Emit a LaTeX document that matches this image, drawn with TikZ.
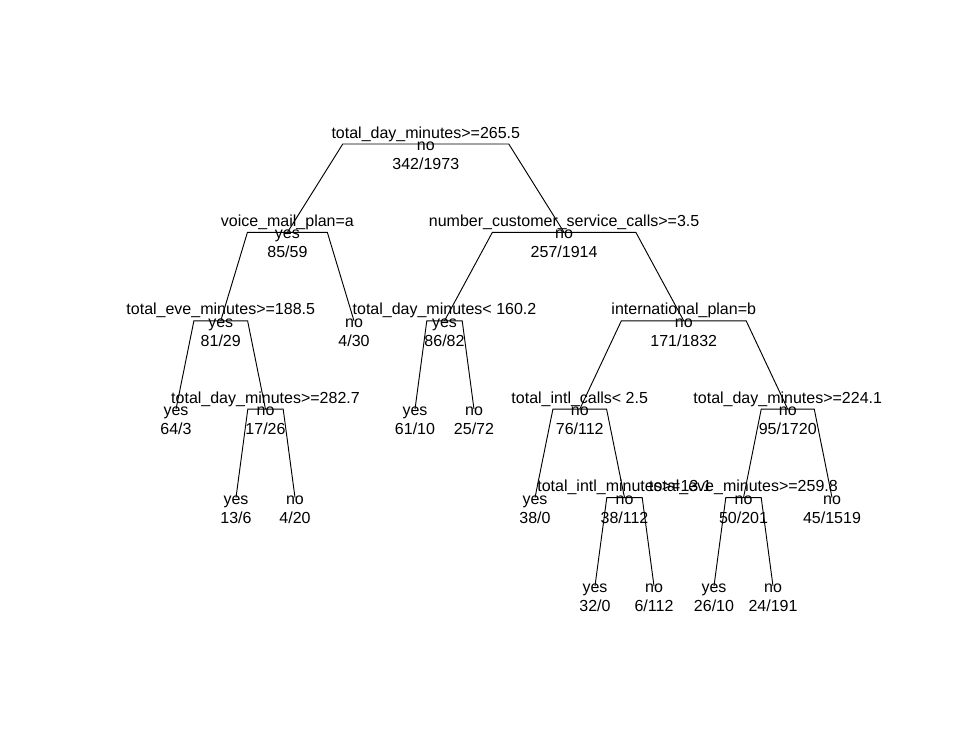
\documentclass[tikz,border=0pt]{standalone}
\usepackage{fontspec}
\setmainfont{Liberation Sans}
\usetikzlibrary{calc}
\tikzset{
  lbl/.style={anchor=base, inner sep=0pt, font=\fontsize{12}{14}\selectfont},
  edge/.style={draw=black, line width=0.7pt}
}
% internal node: name, x, y, split label, class, counts
\newcommand\inode[6]{%
  \coordinate (#1) at (#2,#3);
  \node[lbl] (#1-s) at (#2,{#3-6}) {#4};
  \node[lbl] (#1-c) at (#2,{#3+6.5}) {#5};
  \node[lbl] (#1-n) at (#2,{#3+25.5}) {#6};
}
% leaf: name, x, y, class, counts
\newcommand\lnode[5]{%
  \coordinate (#1) at (#2,#3);
  \node[lbl] (#1-c) at (#2,{#3+6.5}) {#4};
  \node[lbl] (#1-n) at (#2,{#3+25.5}) {#5};
}
% branches: parent, left child, right child
\newcommand\tbranch[3]{%
  \draw[edge] let \p1=(#1), \p2=(#2), \p3=(#3) in
    (#2) -- ({\x1+0.6*(\x2-\x1)},\y1) -- ({\x1+0.6*(\x3-\x1)},\y1) -- (#3);
}
\begin{document}
\begin{tikzpicture}[x=0.75pt,y=-0.75pt]
\fill[white] (0,0) rectangle (972,749);
\useasboundingbox (0,0) rectangle (972,749);

% levels
\def\Lz{144}\def\La{232.4}\def\Lb{320.8}\def\Lc{409.2}\def\Ld{497.6}\def\Le{586}

\inode{n1}{425.8}{\Lz}{total\_day\_minutes>=265.5}{no}{342/1973}
\inode{n2}{287.4}{\La}{voice\_mail\_plan=a}{yes}{85/59}
\inode{n3}{564.1}{\La}{number\_customer\_service\_calls>=3.5}{no}{257/1914}
\inode{n4}{220.75}{\Lb}{total\_eve\_minutes>=188.5}{yes}{81/29}
\lnode{n5}{354}{\Lb}{no}{4/30}
\inode{n6}{444.5}{\Lb}{total\_day\_minutes< 160.2}{yes}{86/82}
\inode{n7}{683.75}{\Lb}{international\_plan=b}{no}{171/1832}
\lnode{n8}{176}{\Lc}{yes}{64/3}
\inode{n9}{265.5}{\Lc}{total\_day\_minutes>=282.7}{no}{17/26}
\lnode{n10}{415}{\Lc}{yes}{61/10}
\lnode{n11}{474}{\Lc}{no}{25/72}
\inode{n12}{579.75}{\Lc}{total\_intl\_calls< 2.5}{no}{76/112}
\inode{n13}{787.75}{\Lc}{total\_day\_minutes>=224.1}{no}{95/1720}
\lnode{n14}{236}{\Ld}{yes}{13/6}
\lnode{n15}{295}{\Ld}{no}{4/20}
\lnode{n16}{535}{\Ld}{yes}{38/0}
\inode{n17}{624.5}{\Ld}{total\_intl\_minutes>=13.1}{no}{38/112}
\inode{n18}{743.5}{\Ld}{total\_eve\_minutes>=259.8}{no}{50/201}
\lnode{n19}{832}{\Ld}{no}{45/1519}
\lnode{n20}{595}{\Le}{yes}{32/0}
\lnode{n21}{654}{\Le}{no}{6/112}
\lnode{n22}{714}{\Le}{yes}{26/10}
\lnode{n23}{773}{\Le}{no}{24/191}

\tbranch{n1}{n2}{n3}
\tbranch{n2}{n4}{n5}
\tbranch{n3}{n6}{n7}
\tbranch{n4}{n8}{n9}
\tbranch{n6}{n10}{n11}
\tbranch{n7}{n12}{n13}
\tbranch{n9}{n14}{n15}
\tbranch{n12}{n16}{n17}
\tbranch{n13}{n18}{n19}
\tbranch{n17}{n20}{n21}
\tbranch{n18}{n22}{n23}
\end{tikzpicture}
\end{document}
